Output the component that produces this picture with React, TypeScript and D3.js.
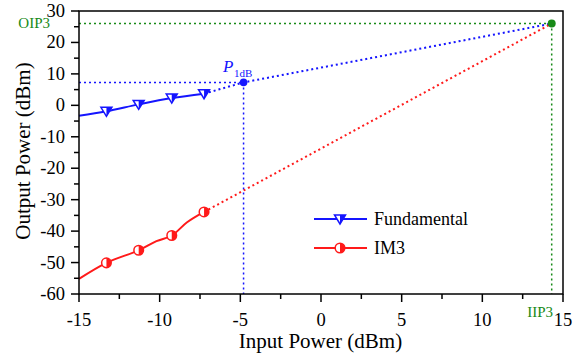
import * as d3 from "d3";

// measured curves (Input dBm, Output dBm)
const fundX = [-15, -13.3, -11.3, -9.25, -7.25];
const fundY = [-3.3, -1.9, 0.3, 2.3, 3.7];
const fundMarkIdx = [1, 2, 3, 4];

const im3X = [-15, -13.3, -11.3, -10.2, -9.25, -8.3, -7.25];
const im3Y = [-55.2, -50.1, -46.1, -43.2, -41.4, -37.2, -33.9];
const im3MarkIdx = [1, 2, 4, 6];

const p1dB = { x: -4.8, y: 7.3 };
const ip3 = { x: 14.3, y: 26 };

const xTicks = [-15, -10, -5, 0, 5, 10, 15];
const yTicks = [-60, -50, -40, -30, -20, -10, 0, 10, 20, 30];
const xMinor = [-12.5, -7.5, -2.5, 2.5, 7.5, 12.5];
const yMinor = [-55, -45, -35, -25, -15, -5, 5, 15, 25];

const BLUE = "#1515ff";
const RED = "#ff1a1a";
const GREEN = "#178a17";
const FONT = "'Liberation Serif', 'Times New Roman', serif";

function TriMarker({ cx, cy }: { cx: number; cy: number }) {
  const s = 5.5, t = 4, b = 5;
  return (
    <g>
      <path d={`M${cx - s},${cy - t}L${cx + s},${cy - t}L${cx},${cy + b}Z`} fill="#fff" />
      <path d={`M${cx},${cy - t}L${cx + s},${cy - t}L${cx},${cy + b}Z`} fill={BLUE} />
      <path d={`M${cx - s},${cy - t}L${cx + s},${cy - t}L${cx},${cy + b}Z`} fill="none" stroke={BLUE} strokeWidth={1.5} />
    </g>
  );
}

function CircMarker({ cx, cy }: { cx: number; cy: number }) {
  const r = 4.8;
  return (
    <g>
      <circle cx={cx} cy={cy} r={r} fill="#fff" />
      <path d={`M${cx},${cy - r}A${r},${r} 0 0 1 ${cx},${cy + r}Z`} fill={RED} />
      <circle cx={cx} cy={cy} r={r} fill="none" stroke={RED} strokeWidth={1.5} />
    </g>
  );
}

export default function App() {
  const left = 79, right = 563, top = 11, bottom = 294;
  const x = d3.scaleLinear().domain([-15, 15]).range([left, right]);
  const y = d3.scaleLinear().domain([-60, 30]).range([bottom, top]);

  const line = d3
    .line<[number, number]>()
    .x((d) => x(d[0]))
    .y((d) => y(d[1]))
    .curve(d3.curveCatmullRom.alpha(0.5));

  const fundPts = fundX.map((v, i) => [v, fundY[i]] as [number, number]);
  const im3Pts = im3X.map((v, i) => [v, im3Y[i]] as [number, number]);
  const fLast = fundPts[fundPts.length - 1];
  const iLast = im3Pts[im3Pts.length - 1];

  const dots = "2,3";

  return (
    <svg
      width={580}
      height={354}
      style={{ position: "absolute", left: 0, top: 0, background: "#fff" }}
      fontFamily={FONT}
    >
      {/* guide lines */}
      <line x1={x(-15)} x2={x(ip3.x)} y1={y(ip3.y)} y2={y(ip3.y)} stroke={GREEN} strokeWidth={1.5} strokeDasharray={dots} />
      <line x1={x(ip3.x)} x2={x(ip3.x)} y1={y(ip3.y)} y2={y(-60)} stroke={GREEN} strokeWidth={1.5} strokeDasharray={dots} />
      <line x1={x(-15)} x2={x(p1dB.x)} y1={y(p1dB.y)} y2={y(p1dB.y)} stroke={BLUE} strokeWidth={1.5} strokeDasharray={dots} />
      <line x1={x(p1dB.x)} x2={x(p1dB.x)} y1={y(p1dB.y)} y2={y(-60)} stroke={BLUE} strokeWidth={1.5} strokeDasharray={dots} />

      {/* extrapolations */}
      <path
        d={`M${x(fLast[0])},${y(fLast[1])}L${x(p1dB.x)},${y(p1dB.y)}L${x(ip3.x)},${y(ip3.y)}`}
        fill="none" stroke={BLUE} strokeWidth={2} strokeDasharray={dots}
      />
      <path
        d={`M${x(iLast[0])},${y(iLast[1])}L${x(ip3.x)},${y(ip3.y)}`}
        fill="none" stroke={RED} strokeWidth={2} strokeDasharray={dots}
      />

      {/* data curves */}
      <path d={line(fundPts) ?? ""} fill="none" stroke={BLUE} strokeWidth={2} />
      <path d={line(im3Pts) ?? ""} fill="none" stroke={RED} strokeWidth={2} />
      {fundMarkIdx.map((i) => (
        <TriMarker key={i} cx={x(fundX[i])} cy={y(fundY[i])} />
      ))}
      {im3MarkIdx.map((i) => (
        <CircMarker key={i} cx={x(im3X[i])} cy={y(im3Y[i])} />
      ))}

      <circle cx={x(p1dB.x)} cy={y(p1dB.y)} r={3.8} fill={BLUE} />
      <circle cx={x(ip3.x)} cy={y(ip3.y)} r={4} fill={GREEN} />

      {/* frame */}
      <rect x={left} y={top} width={right - left} height={bottom - top} fill="none" stroke="#000" strokeWidth={1.5} />

      {/* x axis */}
      {xTicks.map((t) => (
        <g key={t}>
          <line x1={x(t)} x2={x(t)} y1={bottom} y2={bottom + 8} stroke="#000" strokeWidth={1.5} />
          <text x={x(t)} y={326} textAnchor="middle" fontSize={18.5}>{t}</text>
        </g>
      ))}
      {xMinor.map((t) => (
        <line key={t} x1={x(t)} x2={x(t)} y1={bottom} y2={bottom + 5} stroke="#000" strokeWidth={1.5} />
      ))}
      {/* y axis */}
      {yTicks.map((t) => (
        <g key={t}>
          <line x1={left - 8} x2={left} y1={y(t)} y2={y(t)} stroke="#000" strokeWidth={1.5} />
          <text x={left - 14} y={y(t) + 6} textAnchor="end" fontSize={18.5}>{t}</text>
        </g>
      ))}
      {yMinor.map((t) => (
        <line key={t} x1={left - 5} x2={left} y1={y(t)} y2={y(t)} stroke="#000" strokeWidth={1.5} />
      ))}

      <text x={320.5} y={348} textAnchor="middle" fontSize={21}>Input Power (dBm)</text>
      <text transform={`translate(30,151) rotate(-90)`} textAnchor="middle" fontSize={21}>
        Output Power (dBm)
      </text>

      {/* annotations */}
      <text x={50} y={28} textAnchor="end" fontSize={15} fill={GREEN}>OIP3</text>
      <text x={553} y={317} textAnchor="end" fontSize={15} fill={GREEN}>IIP3</text>
      <text x={223} y={72} fontSize={17} fill={BLUE} fontStyle="italic">P</text>
      <text x={234} y={77} fontSize={11} fill={BLUE}>1dB</text>

      {/* legend */}
      <line x1={314} x2={367} y1={219} y2={219} stroke={BLUE} strokeWidth={2} />
      <TriMarker cx={340} cy={219} />
      <text x={374} y={225} fontSize={18}>Fundamental</text>
      <line x1={314} x2={367} y1={248} y2={248} stroke={RED} strokeWidth={2} />
      <CircMarker cx={340} cy={248} />
      <text x={374} y={254} fontSize={18}>IM3</text>
    </svg>
  );
}
